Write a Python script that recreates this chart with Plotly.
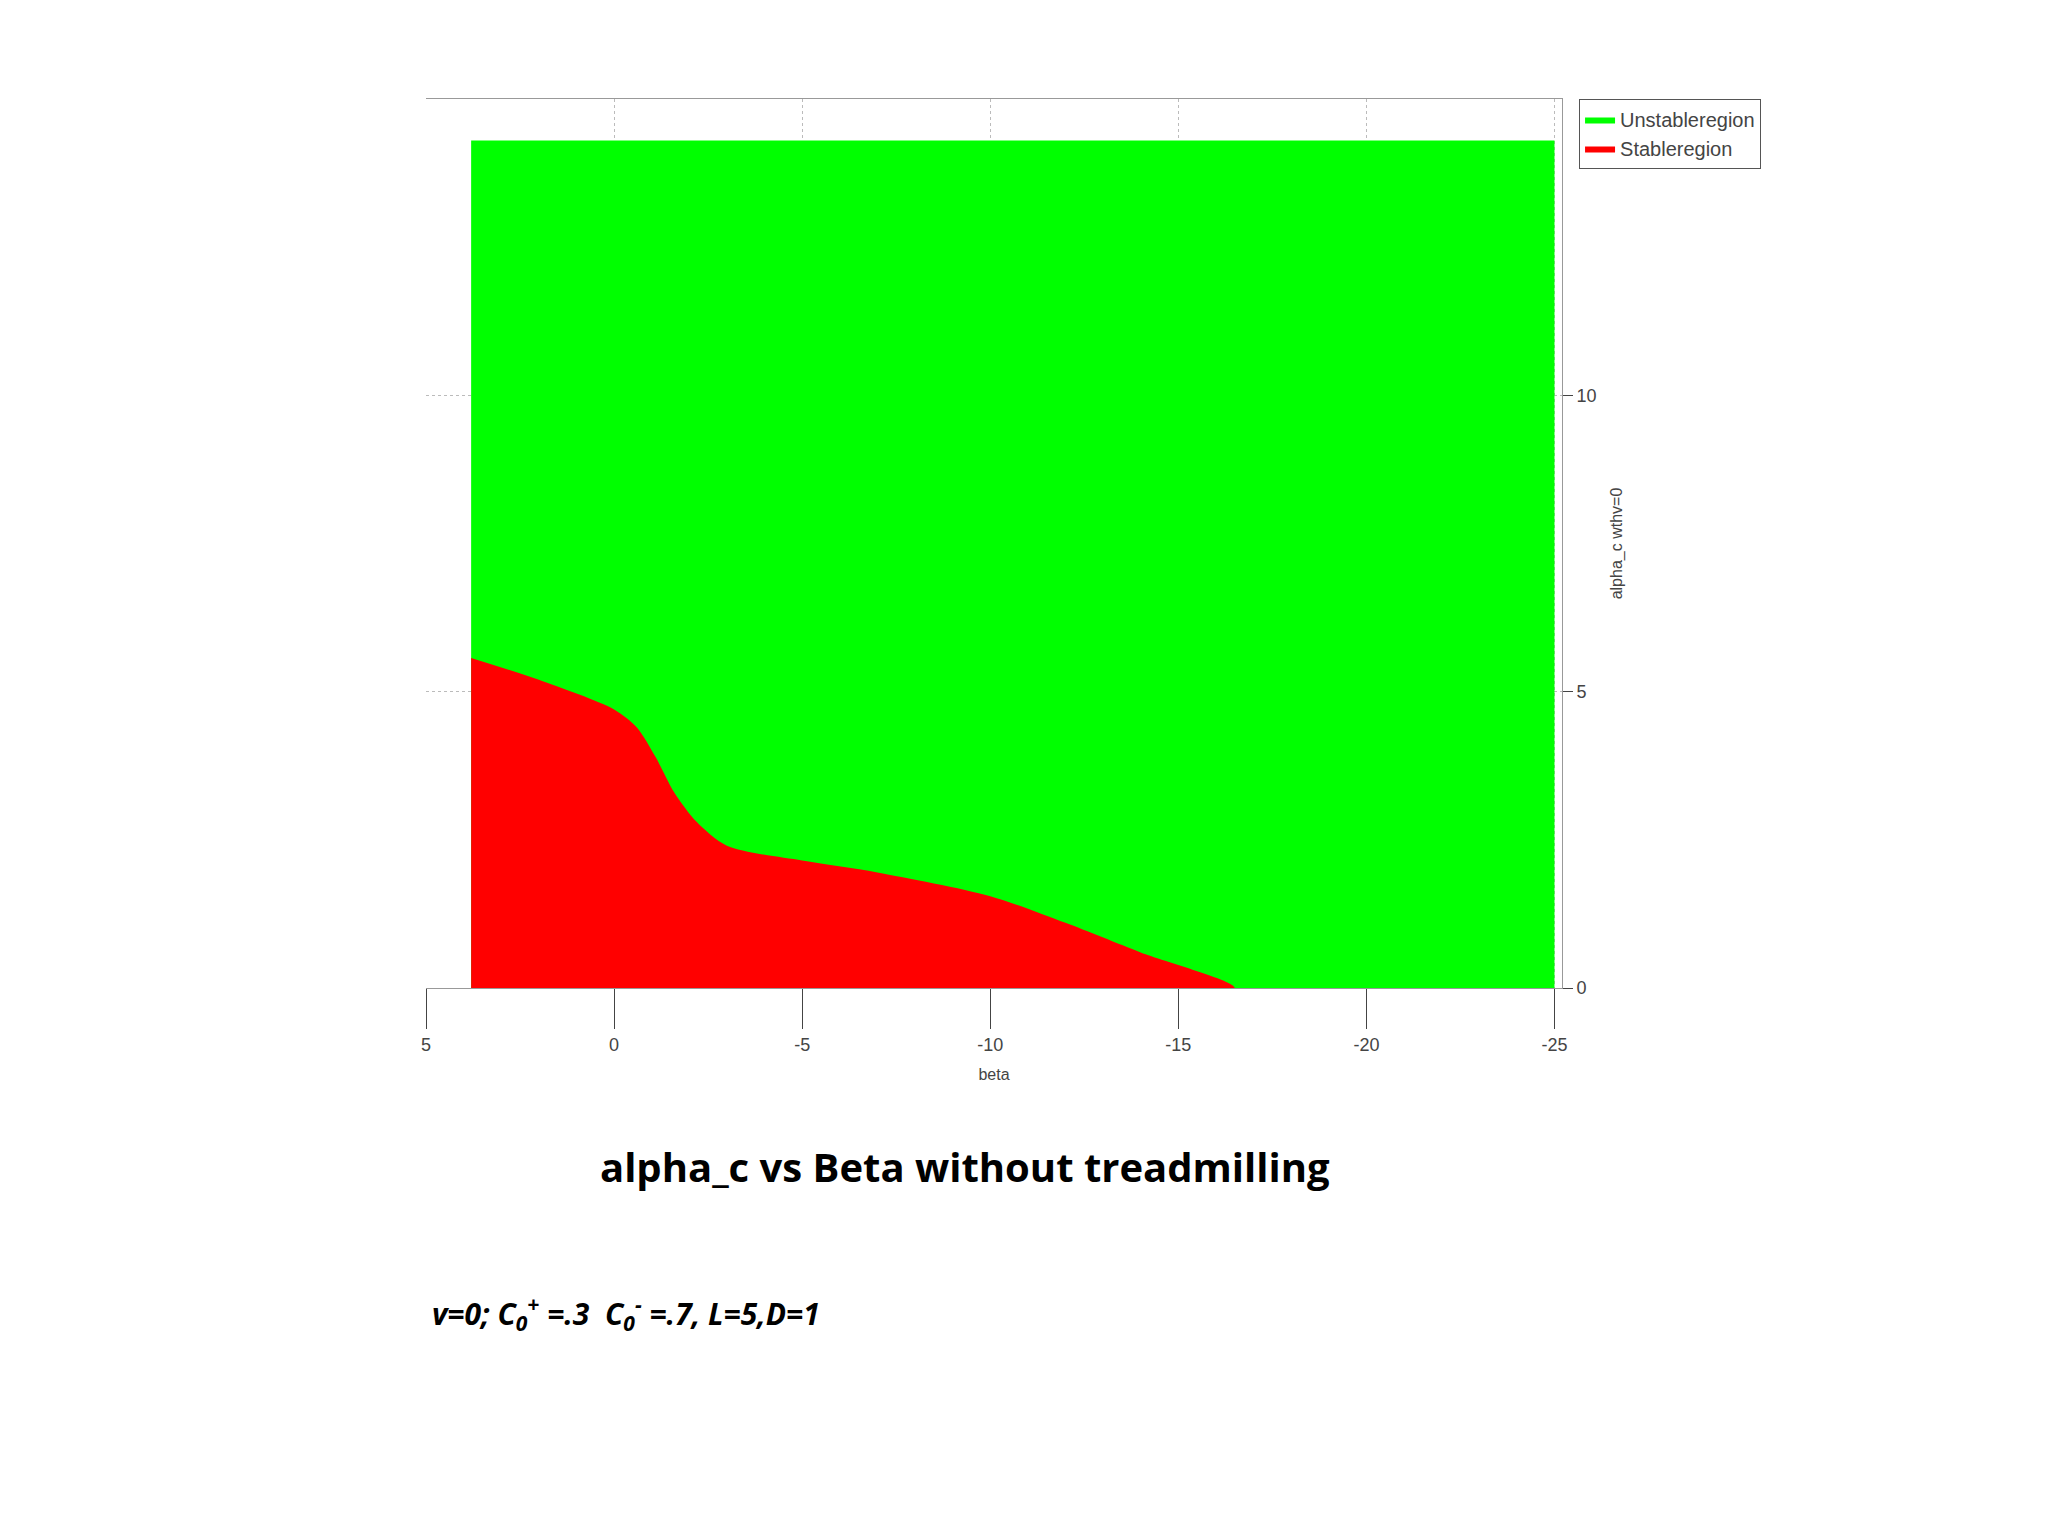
import plotly.graph_objects as go

unstable_x = [3.8, -25.0, -25.0, 3.8]
unstable_y = [0, 0, 14.3, 14.3]
stable_x = [3.8, 2.0, 0.0, -0.6, -1.1, -1.6, -2.2, -3.0, -5.0, -7.0, -10.0, -12.0, -14.0, -16.5]
stable_y = [5.57, 5.2, 4.7, 4.4, 3.9, 3.3, 2.8, 2.4, 2.15, 1.95, 1.55, 1.1, 0.6, 0.0]
x_ticks = [5, 0, -5, -10, -15, -20, -25]
x_tick_labels = ["5", "0", "-5", "-10", "-15", "-20", "-25"]
y_ticks = [0, 5, 10]

L, R, T, B = 418, 494, 91, 556
pw, ph = 2048 - L - R, 1536 - T - B
def px(x): return (x - L) / pw
def py(y): return (1536 - B - y) / ph

fig = go.Figure()
fig.add_trace(go.Scatter(x=unstable_x, y=unstable_y, fill="toself", fillcolor="#00ff00",
                         line=dict(width=0, color="#00ff00"), mode="lines", name="Unstableregion"))
fig.add_trace(go.Scatter(x=stable_x + [stable_x[0]], y=stable_y + [0], fill="toself", fillcolor="#ff0000",
                         line=dict(width=0, color="#ff0000", shape="spline", smoothing=0.8), mode="lines", name="Stableregion"))

fig.update_layout(
    width=2048, height=1536, paper_bgcolor="white", plot_bgcolor="white",
    margin=dict(l=L, r=R, t=T, b=B, autoexpand=False),
    font=dict(family="Liberation Sans Narrow, Arial", color="#444"),
    xaxis=dict(range=[5, -25.2], tickvals=x_ticks, ticktext=x_tick_labels, ticks="outside", ticklen=40,
               showgrid=True, gridcolor="#bbb", griddash="dot", zeroline=False, showline=True, linecolor="#999",
               mirror=True, title=dict(text="beta", font=dict(size=16)), tickfont=dict(size=18)),
    yaxis=dict(range=[0, 15], side="right", tickvals=y_ticks, ticks="outside", ticklen=10,
               showgrid=True, gridcolor="#bbb", griddash="dot", zeroline=False, showline=True, linecolor="#999",
               title=dict(text="alpha_c wthv=0", font=dict(size=16)), tickfont=dict(size=18)),
    legend=dict(x=1.015, y=1.0, xanchor="left", yanchor="top", bordercolor="#555", borderwidth=1,
                font=dict(size=20), bgcolor="white"),
    annotations=[
        dict(text="<b>alpha_c vs Beta without treadmilling</b>", x=px(957), y=py(1158), xref="paper", yref="paper",
             xanchor="center", yanchor="middle",
             showarrow=False, font=dict(family="Open Sans", size=40, color="black")),
        dict(text="<b><i>v=0; C<sub>0</sub><sup>+</sup> =.3  C<sub>0</sub><sup>-</sup> =.7, L=5,D=1</i></b>",
             x=px(422), y=py(1305), xref="paper", yref="paper", xanchor="left", yanchor="middle",
             showarrow=False, font=dict(family="Open Sans", size=30, color="black")),
    ],
)
fig.write_html("out.html")
